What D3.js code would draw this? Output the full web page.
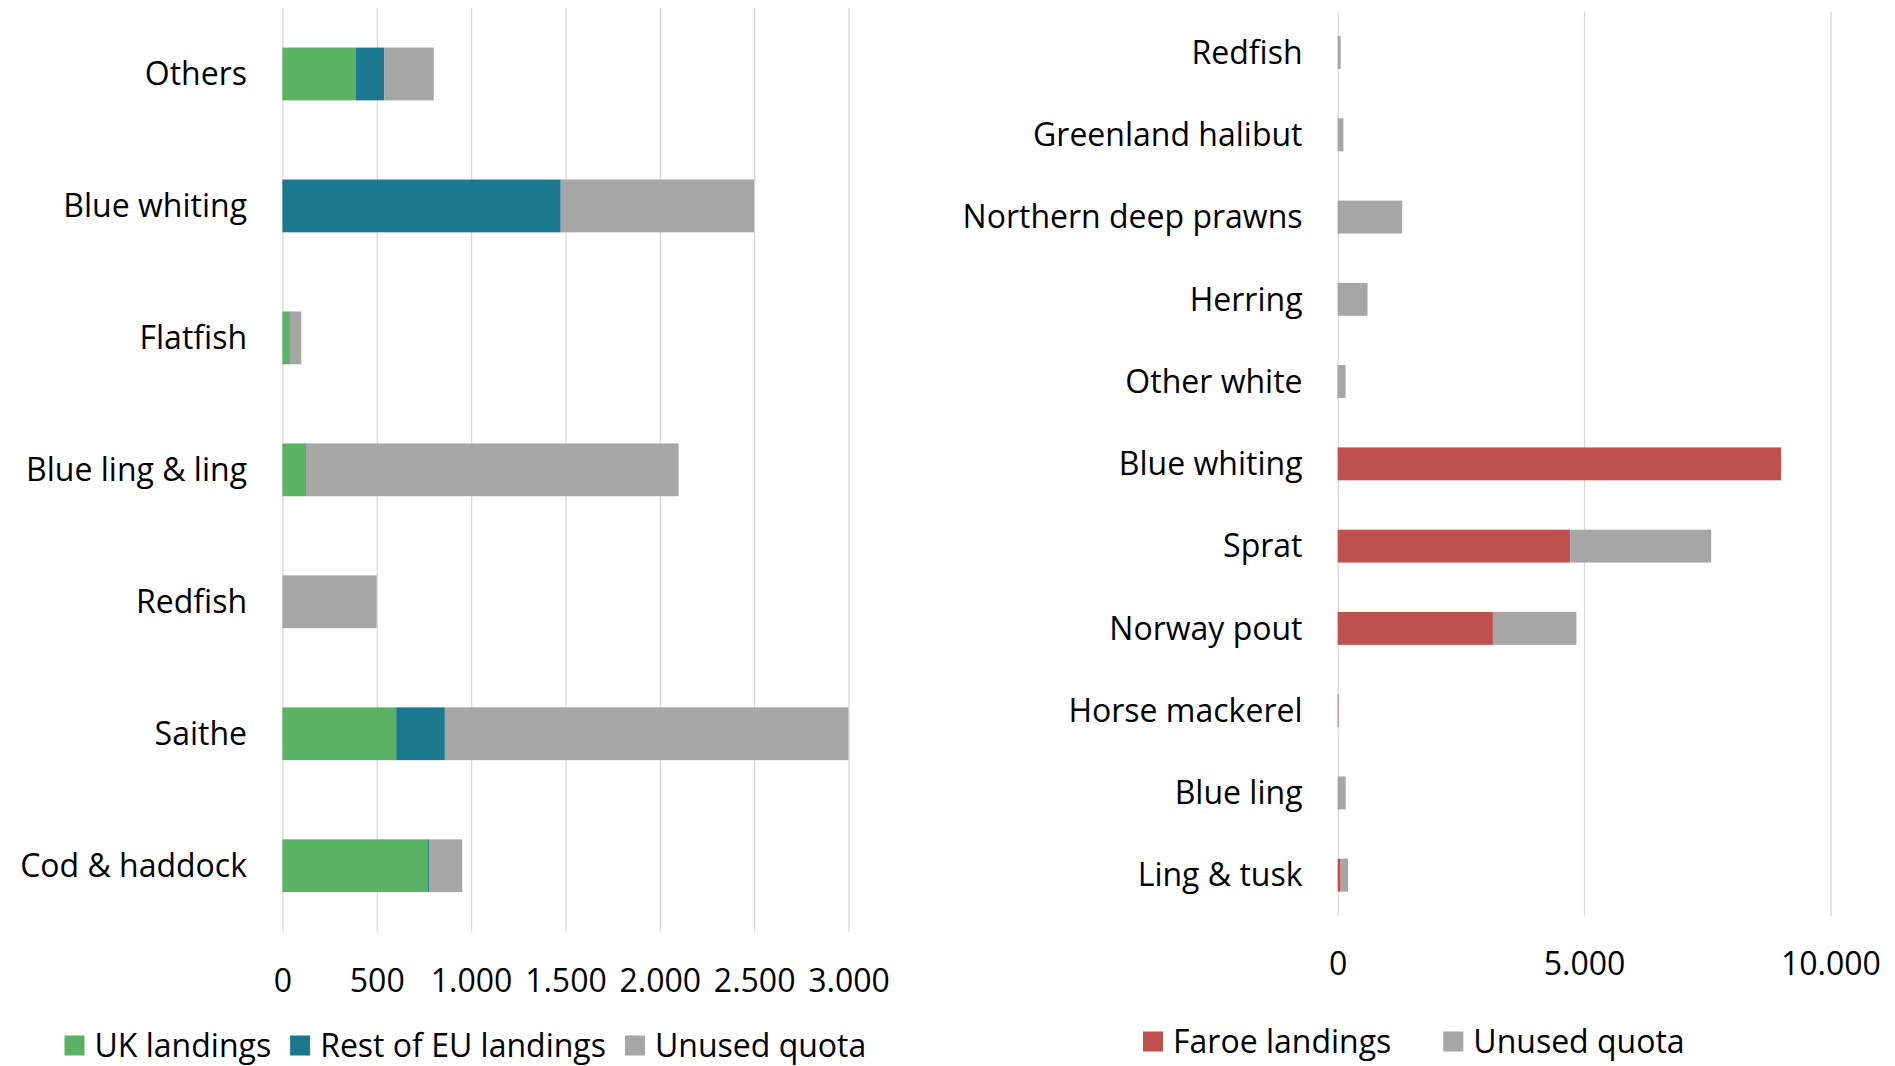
<!DOCTYPE html>
<html>
<head>
<meta charset="utf-8">
<script src="https://cdn.jsdelivr.net/npm/d3@7"></script>
<style>
  html, body { margin: 0; padding: 0; background: #ffffff; }
  svg { display: block; }
  text { font-family: "Open Sans", "DejaVu Sans", sans-serif; fill: #000; }
</style>
</head>
<body>
<svg id="chart" width="1895" height="1066"></svg>
<script>
// ---------- DATA ----------
const leftCategories = ["Others", "Blue whiting", "Flatfish", "Blue ling & ling", "Redfish", "Saithe", "Cod & haddock"];
const leftUK      = [390,    0, 40,  125,   0,  603, 772];
const leftEU      = [150, 1475,  0,    0,   0,  258,   5];
const leftUnused  = [262, 1025, 60, 1975, 500, 2139, 176];
const leftTicks   = [0, 500, 1000, 1500, 2000, 2500, 3000];
const leftSeries  = ["UK landings", "Rest of EU landings", "Unused quota"];

const rightCategories = ["Redfish", "Greenland halibut", "Northern deep prawns", "Herring", "Other white",
                         "Blue whiting", "Sprat", "Norway pout", "Horse mackerel", "Blue ling", "Ling & tusk"];
const rightFaroe  = [ 0,   0,    0,   0,  10, 9000, 4720, 3150, 15,   0,  60];
const rightUnused = [60, 115, 1310, 605, 150,    0, 2860, 1695,  0, 162, 150];
const rightTicks  = [0, 5000, 10000];
const rightSeries = ["Faroe landings", "Unused quota"];

// ---------- STYLE ----------
const colGreen = "#5BB264", colTeal = "#1B788F", colGray = "#A6A6A6", colRed = "#C0504D";
const gridCol = "#D9D9D9";
const fontSize = 32;

const fmt = d3.formatLocale({ decimal: ",", thousands: ".", grouping: [3], currency: ["", ""] }).format(",");

const svg = d3.select("#chart");

function drawPanel(cfg) {
  const g = svg.append("g");
  const x = d3.scaleLinear().domain(cfg.domain).range([cfg.x0, cfg.x1]);
  const y = d3.scaleBand().domain(cfg.categories).range([cfg.top, cfg.bottom])
              .paddingInner(0.6).paddingOuter(0.3);

  // gridlines via axis
  const axis = d3.axisBottom(x).tickValues(cfg.ticks).tickFormat(fmt)
                 .tickSize(-(cfg.bottom - cfg.top)).tickPadding(0);
  const ag = g.append("g").attr("transform", `translate(0,${cfg.bottom})`).call(axis);
  ag.select(".domain").remove();
  ag.selectAll(".tick line").attr("stroke", gridCol).attr("stroke-width", 1.3);
  ag.selectAll(".tick text")
    .attr("y", cfg.tickLabelY - cfg.bottom).attr("dy", "0.35em")
    .attr("font-size", fontSize).attr("fill", "#000")
    .style("font-family", '"Open Sans", sans-serif');

  // stacked bars
  const rows = cfg.categories.map((c, i) => {
    const o = { cat: c };
    cfg.keys.forEach((k, j) => o[k] = cfg.values[j][i]);
    return o;
  });
  const stack = d3.stack().keys(cfg.keys)(rows);
  g.append("g").selectAll("g").data(stack).join("g")
    .attr("fill", (d, i) => cfg.colors[i])
    .selectAll("rect").data(d => d).join("rect")
    .attr("x", d => x(d[0]))
    .attr("width", d => Math.max(0, x(d[1]) - x(d[0])))
    .attr("y", d => y(d.data.cat))
    .attr("height", y.bandwidth());

  // category labels
  g.append("g").selectAll("text").data(cfg.categories).join("text")
    .attr("x", cfg.labelX)
    .attr("y", d => y(d) + y.bandwidth() / 2)
    .attr("dy", "0.35em")
    .attr("text-anchor", "end")
    .attr("font-size", fontSize)
    .text(d => d);

  // legend
  const lg = g.append("g");
  let cx = cfg.legendX;
  cfg.keys.forEach((k, i) => {
    lg.append("rect").attr("x", cx).attr("y", cfg.legendY - 10)
      .attr("width", 20).attr("height", 20).attr("fill", cfg.colors[i]);
    const t = lg.append("text").attr("x", cx + 30).attr("y", cfg.legendY)
      .attr("dy", "0.35em").attr("font-size", fontSize).text(k);
    cx += 30 + t.node().getComputedTextLength() + cfg.legendGap;
  });
}

drawPanel({
  categories: leftCategories,
  keys: leftSeries,
  values: [leftUK, leftEU, leftUnused],
  colors: [colGreen, colTeal, colGray],
  domain: [0, 3000], ticks: leftTicks,
  x0: 282.4, x1: 848.5, top: 8, bottom: 931.7,
  labelX: 247, tickLabelY: 981,
  legendX: 64.5, legendY: 1045.5, legendGap: 19
});

drawPanel({
  categories: rightCategories,
  keys: rightSeries,
  values: [rightFaroe, rightUnused],
  colors: [colRed, colGray],
  domain: [0, 10000], ticks: rightTicks,
  x0: 1337.7, x1: 1830.4, top: 11.4, bottom: 916.3,
  labelX: 1302.5, tickLabelY: 964,
  legendX: 1143, legendY: 1041.5, legendGap: 52
});
</script>
</body>
</html>
